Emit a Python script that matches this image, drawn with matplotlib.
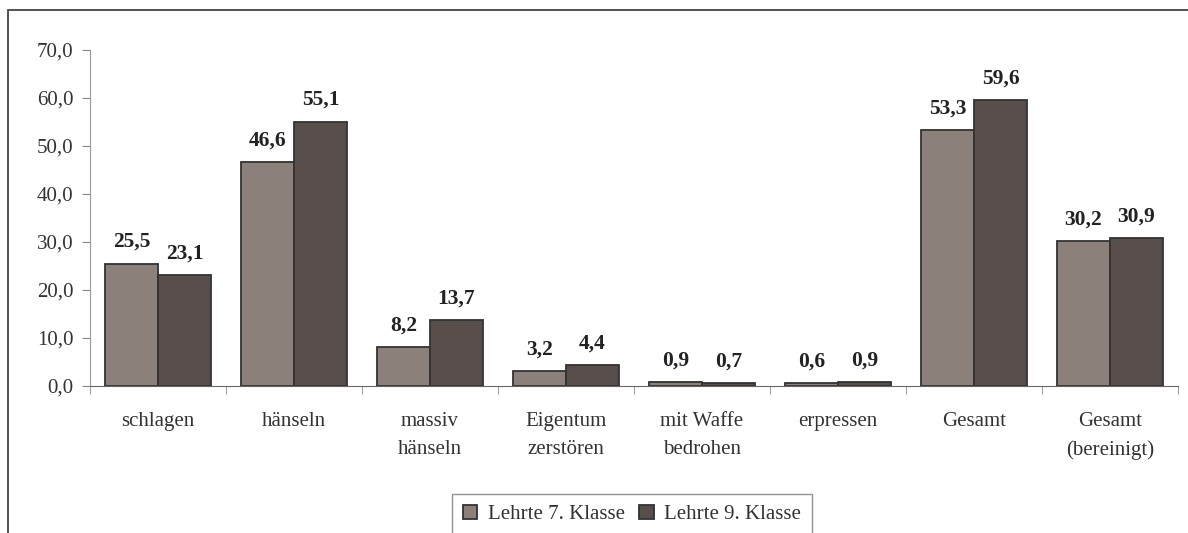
import numpy as np
import matplotlib.pyplot as plt
from matplotlib.patches import Rectangle

categories = ["schlagen", "hänseln", "massiv\nhänseln", "Eigentum\nzerstören",
              "mit Waffe\nbedrohen", "erpressen", "Gesamt", "Gesamt\n(bereinigt)"]
klasse7 = [25.5, 46.6, 8.2, 3.2, 0.9, 0.6, 53.3, 30.2]
klasse9 = [23.1, 55.1, 13.7, 4.4, 0.7, 0.9, 59.6, 30.9]
series_names = ["Lehrte 7. Klasse", "Lehrte 9. Klasse"]
yticks = [0, 10, 20, 30, 40, 50, 60, 70]

plt.rcParams['font.family'] = ['Liberation Serif', 'DejaVu Serif']

fig = plt.figure(figsize=(11.88, 5.33), dpi=100)
ax = fig.add_axes([90/1188, 1-386/533, 1088/1188, 336/533])

# outer frame, cut off at right and bottom
fig.patches.append(Rectangle((8/1188, -0.1), 1.2, 1-10/533+0.1, transform=fig.transFigure,
                             fill=False, edgecolor='#444444', linewidth=1.3))

x = np.arange(len(categories))
w = 0.39
c7 = '#8c807b'
c9 = '#584e4b'
b1 = ax.bar(x - w/2, klasse7, w, color=c7, edgecolor='#333333', linewidth=1.3, label=series_names[0])
b2 = ax.bar(x + w/2, klasse9, w, color=c9, edgecolor='#333333', linewidth=1.3, label=series_names[1])

for bars, vals in ((b1, klasse7), (b2, klasse9)):
    for b, v in zip(bars, vals):
        ax.text(b.get_x() + b.get_width()/2, v + 2.4, f"{v:.1f}".replace('.', ','),
                ha='center', va='bottom', fontsize=15.5, fontweight='bold', color='#222222')

ax.set_xlim(-0.5, len(categories) - 0.5)
ax.set_ylim(0, 70)
ax.set_yticks(yticks)
ax.set_yticklabels([f"{t:.1f}".replace('.', ',') for t in yticks], fontsize=15, color='#333333')
ax.set_xticks(np.arange(len(categories) + 1) - 0.5, minor=True)
ax.set_xticks(x)
ax.set_xticklabels(categories, fontsize=15, color='#333333', linespacing=1.6)
ax.tick_params(axis='x', which='major', length=0, pad=19)
ax.tick_params(axis='x', which='minor', length=6, color='#888888', direction='out')
ax.tick_params(axis='y', length=6, color='#888888', pad=6)

for s in ('top', 'right'):
    ax.spines[s].set_visible(False)
ax.spines['left'].set_color('#999999')
ax.spines['bottom'].set_color('#666666')

leg = fig.legend(loc='upper center', bbox_to_anchor=(632/1188, 1-484/533), ncol=2,
                 fontsize=15, frameon=True, fancybox=False, edgecolor='#777777',
                 handlelength=0.7, handleheight=0.7, handletextpad=0.5, columnspacing=0.7,
                 borderpad=0.5, labelcolor='#333333')
leg.get_frame().set_linewidth(1.0)

fig.savefig('out.png', dpi=100)
